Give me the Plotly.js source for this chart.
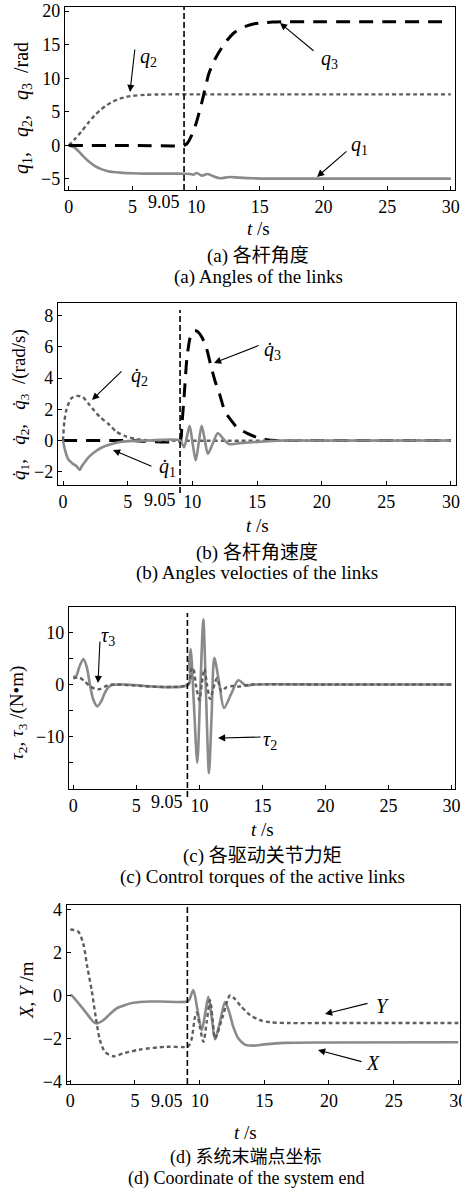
<!DOCTYPE html>
<html><head><meta charset="utf-8">
<script src="https://cdn.plot.ly/plotly-3.0.1.min.js"></script>
<style>html,body{margin:0;padding:0;background:#fff;}#chart{width:462px;height:1188px;}</style>
</head><body><div id="chart"></div>
<script>
// ---------- data (a) joint angles ----------
const q1_t = [0,0.5,1,1.5,2,2.5,3,3.5,4,5,6,7,8,9.05,9.5,9.8,10.05,10.45,10.9,11.3,11.9,12.6,13.4,14.5,16,20,30];
const q1   = [0,-0.4,-1.35,-2.3,-3.0,-3.5,-3.8,-3.97,-4.05,-4.15,-4.2,-4.2,-4.2,-4.22,-4.25,-4.35,-4.1,-4.5,-4.25,-4.55,-4.9,-4.7,-4.8,-4.9,-4.95,-4.95,-4.95];
const q2_t = [0,0.5,1,1.5,2,2.5,3,3.5,4,4.5,5,6,7,8,10,15,20,25,30];
const q2   = [0,1.0,2.1,3.3,4.4,5.3,6.0,6.55,6.95,7.2,7.38,7.52,7.58,7.6,7.6,7.6,7.6,7.6,7.6];
const q3_t = [0,5,9.05,9.3,9.6,10,10.5,11,11.5,12,12.5,13,13.5,14,14.5,15,16,17,20,25,30];
const q3   = [0,0,0,0.3,1.3,3.3,6.8,10.7,12.9,14.5,15.8,16.8,17.4,17.8,18.07,18.2,18.35,18.4,18.4,18.4,18.4];

// ---------- data (b) joint velocities ----------
const q1d_t = [0,0.15,0.4,0.7,1.05,1.3,1.45,1.7,2.0,2.5,3.0,3.5,4.5,5.5,6.5,9.05,9.36,9.57,9.79,10.02,10.26,10.49,10.72,10.96,11.2,11.58,11.97,12.4,12.82,13.6,15.6,17,20,30];
const q1d   = [0,-0.6,-1.2,-1.45,-1.65,-1.88,-1.65,-1.36,-1.05,-0.7,-0.45,-0.29,-0.08,-0.02,0,0,-0.43,0.2,0.94,-0.17,-1.28,-0.17,0.94,0.05,-0.85,-0.19,0.47,0.1,-0.23,-0.17,-0.06,0,0,0];
const q2d_t = [0,0.1,0.26,0.64,1.08,1.54,2.05,2.82,3.59,4.1,4.87,5.64,6.5,7,30];
const q2d   = [0,1.2,1.96,2.7,2.86,2.77,2.28,1.54,1.0,0.58,0.26,0.09,0.02,0,0];
const q3d_t = [0,5,9.05,9.18,9.38,9.57,9.8,10.0,10.2,10.45,10.75,11.1,11.4,11.76,12.1,12.5,12.9,13.5,14.25,15,15.75,16.5,20,30];
const q3d   = [0,0,0,0.9,3.0,5.2,6.5,6.95,7.05,6.95,6.6,5.9,4.9,3.8,3.0,1.9,1.4,0.8,0.46,0.2,0.05,0,0,0];

// ---------- data (c) control torques ----------
const tau2_t = [0,0.2,0.5,0.8,1.05,1.32,1.6,1.9,2.2,2.5,2.8,3.1,4,9.12,9.2,9.31,9.57,9.83,10.07,10.31,10.53,10.76,10.97,11.18,11.57,11.95,12.52,13.09,13.7,14.3,20,30];
const tau2   = [1.6,1.5,3.5,4.9,3.5,0,-3.0,-4.2,-3.3,-1.6,-0.5,-0.1,0,0,4.5,6.8,-4.1,-15.0,-1.2,12.5,-2.2,-17.0,-6.0,5.1,0.3,-4.5,-1.8,0.8,-0.2,0,0,0];
const tau3_t = [0,0.5,0.9,1.3,1.7,2.1,2.5,2.9,3.3,9.12,9.3,9.5,9.75,10.0,10.2,10.4,10.6,10.85,11.1,11.4,11.75,12.1,12.6,13.2,13.8,14.3,20,30];
const tau3   = [1.2,1.3,0.6,-0.3,-0.8,-0.9,-0.4,-0.05,0,0,2.5,3.2,-0.5,-3.0,0.3,3.0,0.0,-2.8,-0.8,1.2,-1.3,-0.6,-0.3,-0.4,-0.1,0,0,0];

// ---------- data (d) end point coordinates ----------
const X_t = [0,0.1,0.75,1.27,1.78,2.04,2.55,3.0,3.58,4.2,4.87,6.16,7,9.05,9.2,9.51,9.84,10.16,10.42,10.67,10.93,11.19,11.58,11.96,12.3,12.6,13.0,13.5,14.1,15,16.5,20,30];
const X   = [0,0,-0.45,-0.84,-1.22,-1.3,-1.15,-0.9,-0.6,-0.45,-0.34,-0.28,-0.28,-0.28,-0.2,0.25,-0.7,-1.61,-0.85,-0.06,-1.0,-2.03,-1.2,-0.3,-0.8,-1.46,-2.0,-2.28,-2.33,-2.27,-2.2,-2.18,-2.17];
const Y_t = [0,0.3,0.62,1.0,1.31,1.65,1.96,2.29,2.68,3.32,4.1,5.39,7.45,9.05,9.2,9.39,9.64,9.78,10.03,10.29,10.55,10.8,11.0,11.19,11.77,12.35,12.7,13.12,13.9,14.67,15.5,17,20,30];
const Y   = [3.06,3.03,2.96,2.41,1.33,0.25,-0.99,-2.07,-2.62,-2.82,-2.69,-2.51,-2.38,-2.38,-2.3,-2.0,-1.0,-0.8,-1.5,-2.15,-1.2,-0.22,-1.1,-2.0,-1.0,0.0,-0.15,-0.45,-0.91,-1.15,-1.25,-1.28,-1.28,-1.28];

// ---------- ticks / labels ----------
const xTicks = [0,5,10,15,20,25,30];
const switchT = 9.05;
const switchLabel = "9.05";
const aYTicks = [20,15,10,5,0,-5];
const bYTicks = [8,6,4,2,0,-2];
const cYTicks = [10,5,0,-5,-10,-15];
const cYText  = ["10","","0","","−10",""];
const dYTicks = [4,2,0,-2,-4];
const captionTags = ["(a) ","(b) ","(c) ","(d) "];
const captionsCN = ["各杆角度","各杆角速度","各驱动关节力矩","系统末端点坐标"];
const captionsEN = ["(a) Angles of the links","(b) Angles velocties of the links","(c) Control torques of the active links","(d) Coordinate of the system end"];

// ---------- layout helpers ----------
const W = 462, H = 1188;
const SERIF = "Liberation Serif";
const CJKF = "Noto Sans CJK SC";
const TF = 18;   // tick font
const NB = "\u00a0";
const px = v => v / W, py = v => 1 - v / H;
const panels = [
  {L:65, R:455, T:7,  B:190, xr:[-0.3,30.33], yr:[-6.64,20.6]},
  {L:58, R:456, T:303,B:485, xr:[-0.39,30.39], yr:[-2.85,8.81]},
  {L:69, R:455, T:607,B:789, xr:[-0.34,30.27], yr:[-20.06,14.87]},
  {L:66.7,R:460,T:905,B:1084, xr:[-0.28,30.13], yr:[-4.11,4.2]}
];
const GRAY = "#8a8a8a", DGRAY = "#5e5e5e";
const solid = (x,y,ax) => ({x,y,xaxis:'x'+ax,yaxis:'y'+ax,type:'scatter',mode:'lines',
  line:{color:GRAY,width:2.6,shape:'spline',smoothing:0.8},hoverinfo:'skip'});
const dotted = (x,y,ax) => ({x,y,xaxis:'x'+ax,yaxis:'y'+ax,type:'scatter',mode:'lines',
  line:{color:DGRAY,width:2.4,dash:'4px,3px',shape:'spline',smoothing:0.8},hoverinfo:'skip'});
const longdash = (x,y,ax) => ({x,y,xaxis:'x'+ax,yaxis:'y'+ax,type:'scatter',mode:'lines',
  line:{color:'#000',width:3,dash:'14px,9px',shape:'spline',smoothing:0.6},hoverinfo:'skip'});

const data = [
  solid(q1_t,q1,''), dotted(q2_t,q2,''), longdash(q3_t,q3,''),
  longdash(q3d_t,q3d,'2'), dotted(q2d_t,q2d,'2'), solid(q1d_t,q1d,'2'),
  solid(tau2_t,tau2,'3'), dotted(tau3_t,tau3,'3'),
  solid(X_t,X,'4'), dotted(Y_t,Y,'4')
];

const layout = {width:W,height:H,margin:{l:0,r:0,t:0,b:0},paper_bgcolor:'#fff',plot_bgcolor:'#fff',
  showlegend:false,font:{family:SERIF,size:TF,color:'#000'},shapes:[],annotations:[]};
const yTicksAll = [aYTicks,bYTicks,cYTicks,dYTicks];
panels.forEach((p,i)=>{
  const s = i===0 ? '' : String(i+1);
  layout['xaxis'+s] = {domain:[px(p.L),px(p.R)],range:p.xr,anchor:'y'+s,showline:true,mirror:true,
    linecolor:'#000',linewidth:1.2,ticks:'inside',ticklen:4,tickcolor:'#000',tickvals:xTicks,
    ticklabeloverflow:'allow',showgrid:false,zeroline:false,tickfont:{family:SERIF,size:TF,color:'#000'},fixedrange:true};
  const ya = {domain:[py(p.B),py(p.T)],range:p.yr,anchor:'x'+s,showline:true,mirror:true,
    linecolor:'#000',linewidth:1.2,ticks:'inside',ticklen:4,tickcolor:'#000',tickvals:yTicksAll[i],
    showgrid:false,zeroline:false,tickfont:{family:SERIF,size:TF,color:'#000'},fixedrange:true};
  if(i===2) ya.ticktext = cYText;
  layout['yaxis'+s] = ya;
});

// vertical dashed switching lines
const vl = [[7,190],[310,493],[613,797],[905,1084]];
vl.forEach((v,i)=>{
  const s = i===0 ? '' : String(i+1);
  layout.shapes.push({type:'line',xref:'x'+s,yref:'paper',x0:switchT,x1:switchT,y0:py(v[1]),y1:py(v[0]),
    line:{color:'#000',width:1.6,dash:'6px,3px'}});
});

function txt(x,y,t,opt){ layout.annotations.push(Object.assign({xref:'paper',yref:'paper',x:px(x),y:py(y),text:t,
  showarrow:false,xanchor:'center',yanchor:'middle',font:{family:SERIF,size:19,color:'#000'}},opt||{})); }
function arrow(tx,ty,hx,hy){ layout.annotations.push({xref:'paper',yref:'paper',x:px(hx),y:py(hy),text:'',
  showarrow:true,arrowhead:2,arrowsize:1.3,arrowwidth:1.1,arrowcolor:'#000',ax:tx-hx,ay:ty-hy,standoff:0,startstandoff:0}); }

// 9.05 tick labels
const tl = [202, 500, 802, 1101];
panels.forEach((p,i)=>{
  const s = i===0 ? '' : String(i+1);
  layout.annotations.push({xref:'x'+s,yref:'paper',x:switchT,y:py(tl[i]),text:switchLabel,showarrow:false,
    xanchor:'right',yanchor:'middle',xshift:-2,font:{family:SERIF,size:TF,color:'#000'}});
});

// axis titles
const sep = ","+NB+NB+NB;
txt(22,108,"<i>q</i><sub>1</sub>"+sep+"<i>q</i><sub>2</sub>"+sep+"<i>q</i><sub>3</sub>"+NB+NB+"/rad",{textangle:-90,font:{family:SERIF,size:20,color:'#000'}});
txt(20,405,"<i>q\u0307</i><sub>1</sub>"+sep+"<i>q\u0307</i><sub>2</sub>"+sep+"<i>q\u0307</i><sub>3</sub>"+NB+NB+"/(rad/s)",{textangle:-90,font:{family:SERIF,size:19,color:'#000'}});
txt(18,713,"<i>τ</i><sub>2</sub>,"+NB+"<i>τ</i><sub>3</sub>"+NB+"/(N•m)",{textangle:-90});
txt(26,990,"<i>X</i>,"+NB+"<i>Y</i>"+NB+"/m",{textangle:-90});
txt(258,228,"<i>t</i> /s"); txt(257,526,"<i>t</i> /s"); txt(262,829,"<i>t</i> /s"); txt(246,1132,"<i>t</i> /s");

// captions
const capY = [[253,277],[550,573],[853,877],[1155,1178]];
const capX = [258,257,262,246];
const capF = [19,19,19,18];
captionsCN.forEach((c,i)=>txt(capX[i],capY[i][0],
  captionTags[i] + '<span style="font-family:\'' + CJKF + '\'">' + c + '</span>',{font:{family:SERIF,size:capF[i],color:'#000'}}));
captionsEN.forEach((c,i)=>txt(capX[i],capY[i][1],c,{font:{family:SERIF,size:capF[i],color:'#000'}}));

// curve labels + arrows
const LF = {family:SERIF,size:20,color:'#000'};
txt(148,57,"<i>q</i><sub>2</sub>",{font:LF}); arrow(135,48,130,92);
txt(329,60,"<i>q</i><sub>3</sub>",{font:LF}); arrow(315,52,280,23);
txt(359,145,"<i>q</i><sub>1</sub>",{font:LF}); arrow(348,150,317,177);
txt(139,376,"<i>q\u0307</i><sub>2</sub>",{font:LF}); arrow(123,370,92,400);
txt(272,351,"<i>q\u0307</i><sub>3</sub>",{font:LF}); arrow(260,345,214,363);
txt(167,467,"<i>q\u0307</i><sub>1</sub>",{font:LF}); arrow(153,467,113,450);
txt(108,636,"<i>τ</i><sub>3</sub>",{font:LF}); arrow(100,640,98,683);
txt(270,740,"<i>τ</i><sub>2</sub>",{font:LF}); arrow(262,737,218,738);
txt(382,1006,"<i>Y</i>",{font:LF}); arrow(369,1003,325,1014);
txt(373,1063,"<i>X</i>",{font:LF}); arrow(363,1062,318,1050);

Plotly.newPlot('chart',data,layout,{staticPlot:true,displayModeBar:false});
</script></body></html>
